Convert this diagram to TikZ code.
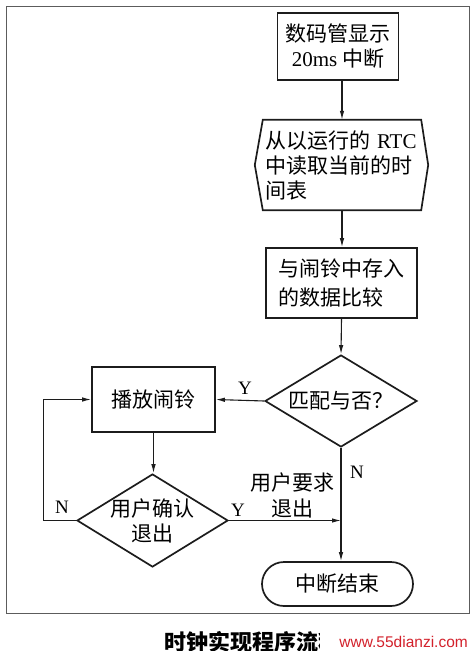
\documentclass[tikz,border=0pt]{standalone}
\usepackage{fontspec}
\setmainfont{Noto Sans CJK SC}
\newfontfamily\latin{Liberation Serif}
\newfontfamily\webfont{Liberation Sans}
\usetikzlibrary{arrows.meta,shapes.geometric}
\definecolor{ink}{HTML}{1C1C1C}
\definecolor{framegray}{HTML}{5C5C5C}
\definecolor{wmred}{HTML}{D3212B}

\begin{document}
\begin{tikzpicture}[x=1pt,y=-1pt,>={Latex[length=9pt,width=4.5pt]},
  txt/.style={font=\fontsize{21}{25}\selectfont},
  box/.style={txt,draw=ink,line width=1.7pt},
  decision/.style={txt,diamond,draw=ink,line width=1.7pt,aspect=1.65,inner sep=0pt},
  flow/.style={ink,line width=1.1pt},
  lbl/.style={font=\latin\fontsize{19}{21}\selectfont,inner sep=0pt}]
 \useasboundingbox (0,0) rectangle (475,651);
 \draw[framegray,line width=0.9pt] (6,6) rectangle (469,613);

 \node[box,minimum width=121,minimum height=67,align=center] (disp) at (338,46.5)
  {数码管显示\\ {\latin 20ms} 中断};
 \node[txt,text width=154,align=left,minimum height=90,inner xsep=2pt] (rd) at (342,165)
  {从以运行的 {\latin RTC}\\中读取当前的时\\间表};
 \draw[ink,line width=1.7pt] ([xshift=-8pt]rd.west) -- (rd.north west) -- (rd.north east)
  -- ([xshift=7pt]rd.east) -- (rd.south east) -- (rd.south west) -- cycle;
 \node[box,font=\fontsize{21}{29}\selectfont,minimum width=151,minimum height=70,align=left] (cmp) at (341.5,283)
  {与闹铃中存入\\的数据比较};
 \node[decision,minimum width=152,minimum height=92] (dec) at (341,401) {匹配与否？};
 \node[box,minimum width=123,minimum height=65] (play) at (153.5,399.5) {播放闹铃};
 \node[decision,minimum width=151,minimum height=93,align=center,inner sep=-2pt] (conf) at (152.5,520.5)
  {用户确认\\退出};
 \node[box,rounded corners=22pt,minimum width=151,minimum height=44] (fin) at (337.5,584) {中断结束};

 \node[lbl] (ydec) at (245,388) {Y};
 \node[lbl] (ndec) at (357,472) {N};
 \node[lbl] (yconf) at (238,510) {Y};
 \node[lbl] (nconf) at (62,507) {N};
 \node[txt,align=center,inner sep=0pt,font=\fontsize{21}{26}\selectfont] (quit) at (292,495) {用户要求\\退出};

 \coordinate (merge) at (dec.south |- conf.east);
 \draw[flow,->] (disp.south -| rd.north) -- (rd.north);
 \draw[flow,->] (rd.south) -- (cmp.north -| rd.south);
 \draw[flow,->] (cmp.south) -- (dec.north);
 \draw[flow,->] (dec.west) -- (play.east);
 \draw[flow,->] (play.south) -- (play.south |- conf.north);
 \draw[flow,->] (conf.west) -- ++(-33,0) |- (play.west);
 \draw[flow,->] (conf.east) -- (merge);
 \draw[flow,->] (dec.south) -- (dec.south |- fin.north);

 \node[anchor=west,font=\fontsize{22}{24}\selectfont\bfseries] (cap) at (161,642) {时钟实现程序流程图};
 \node[anchor=east,fill=white,text=wmred,text width=148,align=right,minimum height=26,inner sep=0pt,
  font=\webfont\fontsize{15.5}{17}\selectfont] (web) at (468,642) {www.55dianzi.com};
\end{tikzpicture}
\end{document}
